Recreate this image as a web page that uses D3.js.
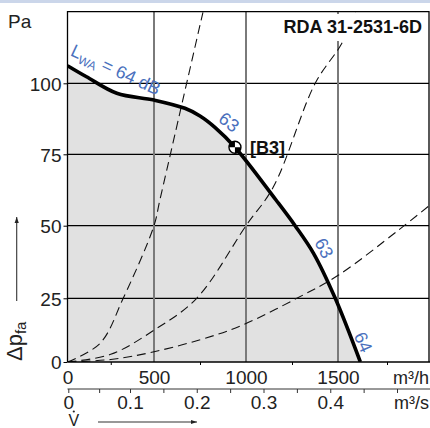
<!DOCTYPE html>
<html>
<head>
<meta charset="utf-8">
<script src="https://cdn.jsdelivr.net/npm/d3@7"></script>
<style>
    html, body { margin: 0; padding: 0; background: #fff; }
    svg { display: block; font-family: "Liberation Sans", Arial, sans-serif; }
</style>
</head>
<body>
<svg id="fanChart" width="430" height="428"></svg>
<script>
// volume flow (m³/h) and pressure (Pa) of the fan curve
var fanFlow = [0, 110, 285, 500, 668, 750, 831, 940, 1163, 1267, 1367, 1485, 1614];
var fanPressure = [106.2, 102.3, 96.5, 94.1, 91.2, 88.5, 84.5, 77.5, 59, 50, 40.5, 25, 0];

// system curves
var systemSteep = [[0, 0], [188, 7.3], [322, 25], [500, 50], [532, 59], [766, 125]];
var systemMid = [[0, 0], [250, 3], [500, 12.5], [732, 25], [1000, 50], [1149, 63.6], [1376, 100], [1519, 114], [1590, 125]];
var systemFlat = [[0, 0], [250, 1], [500, 4], [831, 10.5], [1000, 15.1], [1276, 25], [1503, 33], [1809, 48.5], [1965, 57]];

var pressureTicks = [0, 25, 50, 75, 100];
var flowTicks = [0, 500, 1000, 1500];
var flowMinorTicks = [250, 750, 1250, 1750];
var flowSecTicks = [0, 0.05, 0.1, 0.15, 0.2, 0.25, 0.3, 0.35, 0.4, 0.45, 0.5];
var flowSecLabels = [0, 0.1, 0.2, 0.3, 0.4];

var operatingPoint = {flow: 940, pressure: 77.5, label: "[B3]"};
var soundLabels = [
    {flow: 908, pressure: 86.4, angle: 38, text: "63"},
    {flow: 1425, pressure: 42.3, angle: 62, text: "63"},
    {flow: 1629, pressure: 7.8, angle: 66, text: "64"}
];
var titleText = "RDA 31-2531-6D";

(function () {
    'use strict';

    var vm = {};
    vm.blue = "#4a70bd";

    createSvg();
    setUpScales();
    drawArea();
    drawGrid();
    drawSystemCurves();
    drawFanCurve();
    drawAxes();
    drawLabels();

    function createSvg() {
        vm.svg = d3.select("svg#fanChart");
        vm.svg.append("rect").attr("x", 0).attr("y", 0).attr("width", 430).attr("height", 3)
            .attr("fill", "#cbd6ea");

        vm.left = 67.5; vm.right = 429; vm.top = 11.7; vm.bottom = 362;

        vm.defs = vm.svg.append("defs");
        vm.defs.append("clipPath").attr("id", "plotClip")
            .append("rect")
            .attr("x", vm.left).attr("y", vm.top)
            .attr("width", vm.right - vm.left).attr("height", vm.bottom - vm.top);

        vm.defs.append("marker")
            .attr("id", "arrowHead")
            .attr("viewBox", "0 0 10 10")
            .attr("refX", 10).attr("refY", 5)
            .attr("markerWidth", 8).attr("markerHeight", 6)
            .attr("markerUnits", "userSpaceOnUse")
            .attr("orient", "auto")
            .append("path").attr("d", "M0,1.5L10,5L0,8.5Z").attr("fill", "#222");

        vm.g = vm.svg.append("g").attr("clip-path", "url(#plotClip)");
    }

    function setUpScales() {
        vm.x = d3.scaleLinear().domain([0, 500, 1000, 1500, 2000]).range([67.5, 154, 246, 338, 436]);
        vm.y = d3.scaleLinear().domain([0, 25, 50, 75, 100, 125]).range([362, 298.3, 225.7, 154.3, 83.3, 12.3]);
        vm.xs = d3.scaleLinear().domain([0, 0.1, 0.5, 0.6]).range([68.3, 130, 397, 464]);

        vm.fanData = fanFlow.map(function (f, i) {
            return {flow: f, pressure: fanPressure[i]};
        });
    }

    function drawArea() {
        var area = d3.area()
            .curve(d3.curveCatmullRom.alpha(0.5))
            .x(function (d) { return vm.x(d.flow); })
            .y0(vm.y(0))
            .y1(function (d) { return vm.y(d.pressure); });

        vm.g.append("path")
            .datum(vm.fanData)
            .attr("d", area)
            .attr("fill", "#e1e1e1");
    }

    function drawGrid() {
        vm.g.selectAll(".hgrid")
            .data(pressureTicks.slice(1))
            .enter().append("line")
            .attr("class", "hgrid")
            .attr("x1", vm.left).attr("x2", vm.right)
            .attr("y1", function (d) { return vm.y(d); })
            .attr("y2", function (d) { return vm.y(d); })
            .attr("stroke", "#000").attr("stroke-width", 1.2);

        vm.g.selectAll(".vgrid")
            .data(flowTicks.slice(1))
            .enter().append("line")
            .attr("class", "vgrid")
            .attr("x1", function (d) { return vm.x(d); })
            .attr("x2", function (d) { return vm.x(d); })
            .attr("y1", vm.top).attr("y2", vm.bottom)
            .attr("stroke", "#7a7a7a").attr("stroke-width", 2);
    }

    function drawSystemCurves() {
        var line = d3.line()
            .curve(d3.curveCatmullRom.alpha(0.5))
            .x(function (d) { return vm.x(d[0]); })
            .y(function (d) { return vm.y(d[1]); });

        vm.g.selectAll(".system")
            .data([systemSteep, systemMid, systemFlat])
            .enter().append("path")
            .attr("class", "system")
            .attr("d", line)
            .attr("fill", "none")
            .attr("stroke", "#111")
            .attr("stroke-width", 1.1)
            .attr("stroke-dasharray", "9,5");
    }

    function drawFanCurve() {
        var line = d3.line()
            .curve(d3.curveCatmullRom.alpha(0.5))
            .x(function (d) { return vm.x(d.flow); })
            .y(function (d) { return vm.y(d.pressure); });

        vm.g.append("path")
            .datum(vm.fanData)
            .attr("d", line)
            .attr("fill", "none")
            .attr("stroke", "#000")
            .attr("stroke-width", 3.6);
    }

    function styleAxis(g) {
        g.attr("font-family", null).attr("font-size", 19);
        g.select(".domain").remove();
        g.selectAll(".tick line").attr("stroke", "#000");
        g.selectAll(".tick text").attr("fill", "#222");
    }

    function drawAxes() {
        // plot frame
        vm.svg.append("path")
            .attr("d", "M" + vm.left + "," + vm.bottom + "V" + vm.top + "H" + vm.right + "V" + vm.bottom)
            .attr("fill", "none").attr("stroke", "#000").attr("stroke-width", 1.3);
        vm.svg.append("line")
            .attr("x1", vm.left).attr("x2", 430)
            .attr("y1", vm.bottom).attr("y2", vm.bottom)
            .attr("stroke", "#000").attr("stroke-width", 1.6);

        vm.svg.append("g")
            .attr("transform", "translate(" + vm.left + ",0)")
            .call(d3.axisLeft(vm.y).tickValues(pressureTicks).tickSize(4).tickPadding(2))
            .call(styleAxis)
            .selectAll(".tick text").attr("dy", "0.36em");

        var xAxis = vm.svg.append("g")
            .attr("transform", "translate(0," + vm.bottom + ")")
            .call(d3.axisBottom(vm.x).tickValues(flowTicks).tickSize(0).tickFormat(d3.format("d")))
            .call(styleAxis);
        xAxis.selectAll(".tick text").attr("y", 22).attr("dy", null);

        vm.svg.append("g")
            .attr("transform", "translate(0," + vm.bottom + ")")
            .call(d3.axisBottom(vm.x).tickValues(flowMinorTicks).tickSize(3).tickFormat(""))
            .call(styleAxis);

        // second flow axis in m³/s
        vm.svg.append("line")
            .attr("x1", vm.left).attr("x2", 430)
            .attr("y1", 389).attr("y2", 389)
            .attr("stroke", "#333").attr("stroke-width", 1);

        var sAxis = vm.svg.append("g")
            .attr("transform", "translate(0,389)")
            .call(d3.axisBottom(vm.xs).tickValues(flowSecTicks).tickSize(4)
                .tickFormat(function (d) {
                    return flowSecLabels.indexOf(d) >= 0 ? d3.format("")(d) : "";
                }))
            .call(styleAxis);
        sAxis.selectAll(".tick line").attr("stroke", "#333");
        sAxis.selectAll(".tick text").attr("y", 20).attr("dy", null);

        vm.svg.append("text").attr("x", 429).attr("y", 384).attr("text-anchor", "end")
            .attr("font-size", 18).attr("fill", "#222").text("m³/h");
        vm.svg.append("text").attr("x", 429).attr("y", 409).attr("text-anchor", "end")
            .attr("font-size", 18).attr("fill", "#222").text("m³/s");
        vm.svg.append("text").attr("x", 8).attr("y", 28)
            .attr("font-size", 19).attr("fill", "#222").text("Pa");

        // Δp_fa with arrow
        var dp = vm.svg.append("text")
            .attr("transform", "translate(22,361) rotate(-90)")
            .attr("font-size", 22).attr("fill", "#222");
        dp.append("tspan").text("Δp");
        dp.append("tspan").attr("font-size", 15).attr("dy", 4).text("fa");
        vm.svg.append("line")
            .attr("x1", 16.7).attr("x2", 16.7).attr("y1", 301).attr("y2", 217)
            .attr("stroke", "#333").attr("stroke-width", 1.1)
            .attr("marker-end", "url(#arrowHead)");

        // V-dot with arrow
        vm.svg.append("text").attr("x", 68.5).attr("y", 426)
            .attr("font-size", 16).attr("fill", "#222").text("V");
        vm.svg.append("circle").attr("cx", 73.8).attr("cy", 411.5).attr("r", 1.1).attr("fill", "#222");
        vm.svg.append("line")
            .attr("x1", 98).attr("x2", 197).attr("y1", 422).attr("y2", 422)
            .attr("stroke", "#333").attr("stroke-width", 1.1)
            .attr("marker-end", "url(#arrowHead)");
    }

    function drawLabels() {
        // title on white ground
        vm.svg.append("rect").attr("x", 281).attr("y", 14).attr("width", 146).attr("height", 27)
            .attr("fill", "#fff");
        vm.svg.append("text")
            .attr("x", 422).attr("y", 33)
            .attr("text-anchor", "end")
            .attr("font-size", 18).attr("font-weight", "bold").attr("fill", "#111")
            .text(titleText);

        // sound power label along the curve
        var lwa = vm.svg.append("text")
            .attr("transform", "translate(" + vm.x(12) + "," + vm.y(110) + ") rotate(25)")
            .attr("font-size", 18).attr("fill", vm.blue);
        lwa.append("tspan").text("L");
        lwa.append("tspan").attr("font-size", 12).attr("dy", 4).text("WA");
        lwa.append("tspan").attr("dy", -4).text(" = 64 dB");

        vm.svg.selectAll(".soundLabel")
            .data(soundLabels)
            .enter().append("text")
            .attr("class", "soundLabel")
            .attr("transform", function (d) {
                return "translate(" + vm.x(d.flow) + "," + vm.y(d.pressure) + ") rotate(" + d.angle + ")";
            })
            .attr("text-anchor", "middle")
            .attr("dy", "0.35em")
            .attr("font-size", 18)
            .attr("fill", vm.blue)
            .text(function (d) { return d.text; });

        // operating point marker
        var px = vm.x(operatingPoint.flow), py = vm.y(operatingPoint.pressure);
        var mark = vm.svg.append("g").attr("transform", "translate(" + px + "," + py + ")");
        mark.append("circle").attr("r", 6).attr("fill", "#fff").attr("stroke", "#000").attr("stroke-width", 1.4);
        var arc = d3.arc().innerRadius(0).outerRadius(6);
        mark.append("path").attr("d", arc({startAngle: -Math.PI / 2, endAngle: 0})).attr("fill", "#000");
        mark.append("path").attr("d", arc({startAngle: Math.PI / 2, endAngle: Math.PI})).attr("fill", "#000");

        vm.svg.append("text")
            .attr("x", px + 15).attr("y", py + 7)
            .attr("font-size", 18).attr("font-weight", "bold").attr("fill", "#111")
            .text(operatingPoint.label);
    }
})();
</script>
</body>
</html>
